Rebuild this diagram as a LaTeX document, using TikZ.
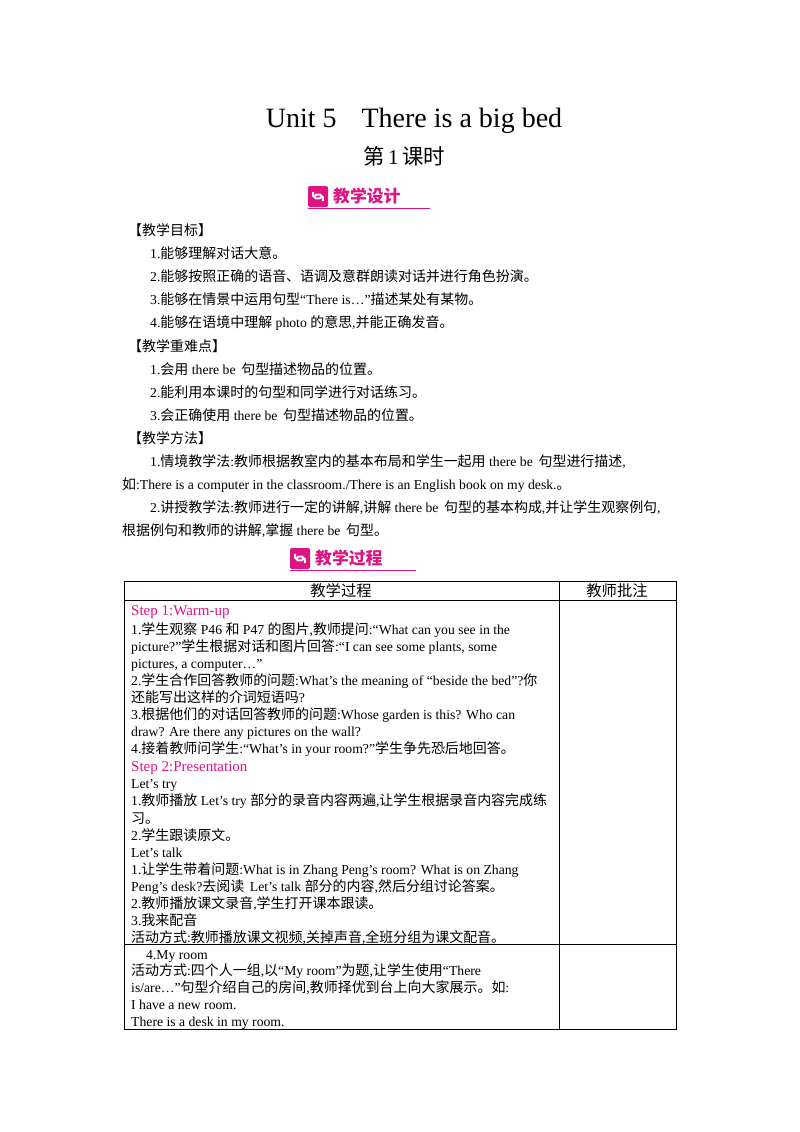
\documentclass[tikz,border=0pt]{standalone}
\usepackage{fontspec}
\setmainfont{Liberation Serif}
\newfontfamily\cjk[Scale=1.02]{Noto Sans CJK SC}
\newXeTeXintercharclass\mycjk
\count255="4E00
\loop\ifnum\count255<"A000 \XeTeXcharclass\count255=\mycjk \advance\count255 by 1 \repeat
\count255="3000
\loop\ifnum\count255<"3040 \XeTeXcharclass\count255=\mycjk \advance\count255 by 1 \repeat
\count255="FF01
\loop\ifnum\count255<"FF60 \XeTeXcharclass\count255=\mycjk \advance\count255 by 1 \repeat
\XeTeXinterchartoks 0 \mycjk = {\begingroup\cjk}
\XeTeXinterchartoks 4095 \mycjk = {\begingroup\cjk}
\XeTeXinterchartoks \mycjk 0 = {\endgroup}
\XeTeXinterchartoks \mycjk 4095 = {\endgroup}
\XeTeXinterchartokenstate=1
\definecolor{mag}{RGB}{222,20,130}
\begin{document}
\begin{tikzpicture}[x=1pt,y=-1pt,
  tx/.style={anchor=base west,inner sep=0pt,font=\fontsize{13.7}{15}\selectfont},
  st/.style={tx,text=mag,font=\fontsize{15}{16}\selectfont},
  rule/.style={line width=0.8pt}]
\useasboundingbox (0,0) rectangle (800,1132);
\node[anchor=base,inner sep=0pt,font=\fontsize{28}{30}\selectfont] (title) at (414,127) {Unit 5\hspace{25pt}There is a big bed};
\node[anchor=base,inner sep=0pt,font=\fontsize{21}{22}\selectfont] (sub) at (404,164) {第\,1\,课时};
% badges
\foreach \bx/\by/\bt/\bw [count=\i] in {308/186/教学设计/122, 290/548/教学过程/126}{
  \fill[mag,rounded corners=2pt] (\bx,\by) rectangle ++(20,21);
  \draw[white,line width=2pt] (\bx+5,\by+6) arc (200:20:5) (\bx+15,\by+15) arc (20:-160:5);
  \node[anchor=west,inner sep=0pt,text=mag,font=\cjk\bfseries\fontsize{16.5}{17}\selectfont] (b\i) at (\bx+25,\by+10.5) {\bt};
  \draw[mag,line width=0.8pt] (\bx,\by+22) -- ++(\bw,0);
}
\node[tx] (h1) at (128,235) {【教学目标】};
\node[tx] (a1) at (150,258) {1.能够理解对话大意。};
\node[tx] (a2) at (150,281) {2.能够按照正确的语音、语调及意群朗读对话并进行角色扮演。};
\node[tx] (a3) at (150,304) {3.能够在情景中运用句型“There is…”描述某处有某物。};
\node[tx] (a4) at (150,327) {4.能够在语境中理解 photo 的意思,并能正确发音。};
\node[tx] (h2) at (128,351) {【教学重难点】};
\node[tx] (c1) at (150,374) {1.会用 there be\, 句型描述物品的位置。};
\node[tx] (c2) at (150,397) {2.能利用本课时的句型和同学进行对话练习。};
\node[tx] (c3) at (150,420) {3.会正确使用 there be\, 句型描述物品的位置。};
\node[tx] (h3) at (128,443) {【教学方法】};
\node[tx] (m1) at (150,466) {1.情境教学法:教师根据教室内的基本布局和学生一起用 there be\, 句型进行描述,};
\node[tx] (m2) at (122,489) {如:There is a computer in the classroom./There is an English book on my desk.。};
\node[tx] (m3) at (150,512) {2.讲授教学法:教师进行一定的讲解,讲解 there be\, 句型的基本构成,并让学生观察例句,};
\node[tx] (m4) at (122,535) {根据例句和教师的讲解,掌握 there be\, 句型。};
% table
\draw[rule] (124,581) rectangle (676,1029);
\draw[rule] (559,581) -- (559,1029);
\draw[rule] (124,600) -- (676,600);
\draw[rule] (124,944) -- (676,944);
\node[anchor=base,inner sep=0pt,font=\fontsize{15}{16}\selectfont] (t1) at (341,596) {教学过程};
\node[anchor=base,inner sep=0pt,font=\fontsize{15}{16}\selectfont] (t2) at (617,596) {教师批注};
\node[st] (s1) at (131,615) {Step 1:Warm-up};
\node[tx] (l1) at (131,634) {1.学生观察 P46 和 P47 的图片,教师提问:“What can you see in the};
\node[tx] (l2) at (131,651) {picture?”学生根据对话和图片回答:“I can see some plants, some};
\node[tx] (l3) at (131,668) {pictures, a computer…”};
\node[tx] (l4) at (131,685) {2.学生合作回答教师的问题:What’s the meaning of “beside the bed”?你};
\node[tx] (l5) at (131,702) {还能写出这样的介词短语吗?};
\node[tx] (l6) at (131,719) {3.根据他们的对话回答教师的问题:Whose garden is this? Who can};
\node[tx] (l7) at (131,736) {draw? Are there any pictures on the wall?};
\node[tx] (l8) at (131,753) {4.接着教师问学生:“What’s in your room?”学生争先恐后地回答。};
\node[st] (s2) at (131,771) {Step 2:Presentation};
\node[tx] (l9) at (131,788) {Let’s try};
\node[tx] (l10) at (131,805) {1.教师播放 Let’s try 部分的录音内容两遍,让学生根据录音内容完成练};
\node[tx] (l11) at (131,823) {习。};
\node[tx] (l12) at (131,840) {2.学生跟读原文。};
\node[tx] (l13) at (131,857) {Let’s talk};
\node[tx] (l14) at (131,874) {1.让学生带着问题:What is in Zhang Peng’s room? What is on Zhang};
\node[tx] (l15) at (131,891) {Peng’s desk?去阅读\, Let’s talk 部分的内容,然后分组讨论答案。};
\node[tx] (l16) at (131,908) {2.教师播放课文录音,学生打开课本跟读。};
\node[tx] (l17) at (131,925) {3.我来配音};
\node[tx] (l18) at (131,942) {活动方式:教师播放课文视频,关掉声音,全班分组为课文配音。};
\node[tx] (l19) at (146,959) {4.My room};
\node[tx] (l20) at (131,975) {活动方式:四个人一组,以“My room”为题,让学生使用“There};
\node[tx] (l21) at (131,992) {is/are…”句型介绍自己的房间,教师择优到台上向大家展示。如:};
\node[tx] (l22) at (131,1009) {I have a new room.};
\node[tx] (l23) at (131,1026) {There is a desk in my room.};
\end{tikzpicture}
\end{document}
